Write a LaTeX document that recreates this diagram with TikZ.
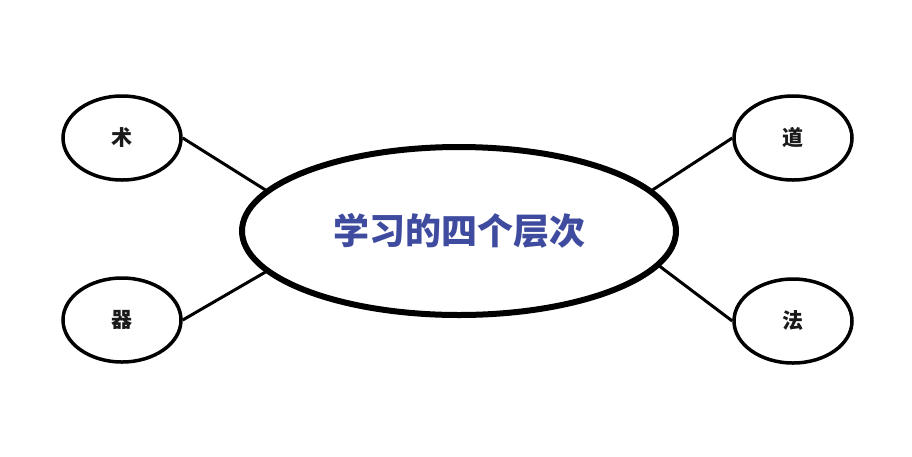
\documentclass[tikz,border=0pt]{standalone}
\usepackage{fontspec}
\newfontfamily\cjk{Noto Sans CJK SC}
\usetikzlibrary{shapes.geometric}
\definecolor{titleblue}{HTML}{3F4B9E}
\definecolor{labelink}{HTML}{1A1A1A}
\tikzset{
  small/.style={ellipse, draw=black, line width=3.5pt, minimum width=118pt, minimum height=84pt, inner sep=0pt, text=labelink, font=\cjk\bfseries\fontsize{21}{21}\selectfont},
  big/.style={ellipse, draw=black, line width=6pt, minimum width=434pt, minimum height=168pt, inner sep=0pt, font=\cjk\bfseries\fontsize{36}{36}\selectfont, text=titleblue},
  link/.style={draw=black, line width=3pt}
}
\begin{document}
\begin{tikzpicture}[x=1pt,y=-1pt]
\useasboundingbox (0,0) rectangle (912,456);
\fill[white] (0,0) rectangle (912,456);
\node[big] (c) at (459,231) {学习的四个层次};
\node[small] (shu) at (122,138) {术};
\node[small] (qi) at (122,320) {器};
\node[small] (dao) at (793,138) {道};
\node[small] (fa) at (793,321) {法};
\draw[link] (shu.east) -- (c.168);
\draw[link] (qi.east) -- (c.192);
\draw[link] (dao.west) -- (c.12);
\draw[link] (fa.west) -- (c.-10);
\end{tikzpicture}
\end{document}
